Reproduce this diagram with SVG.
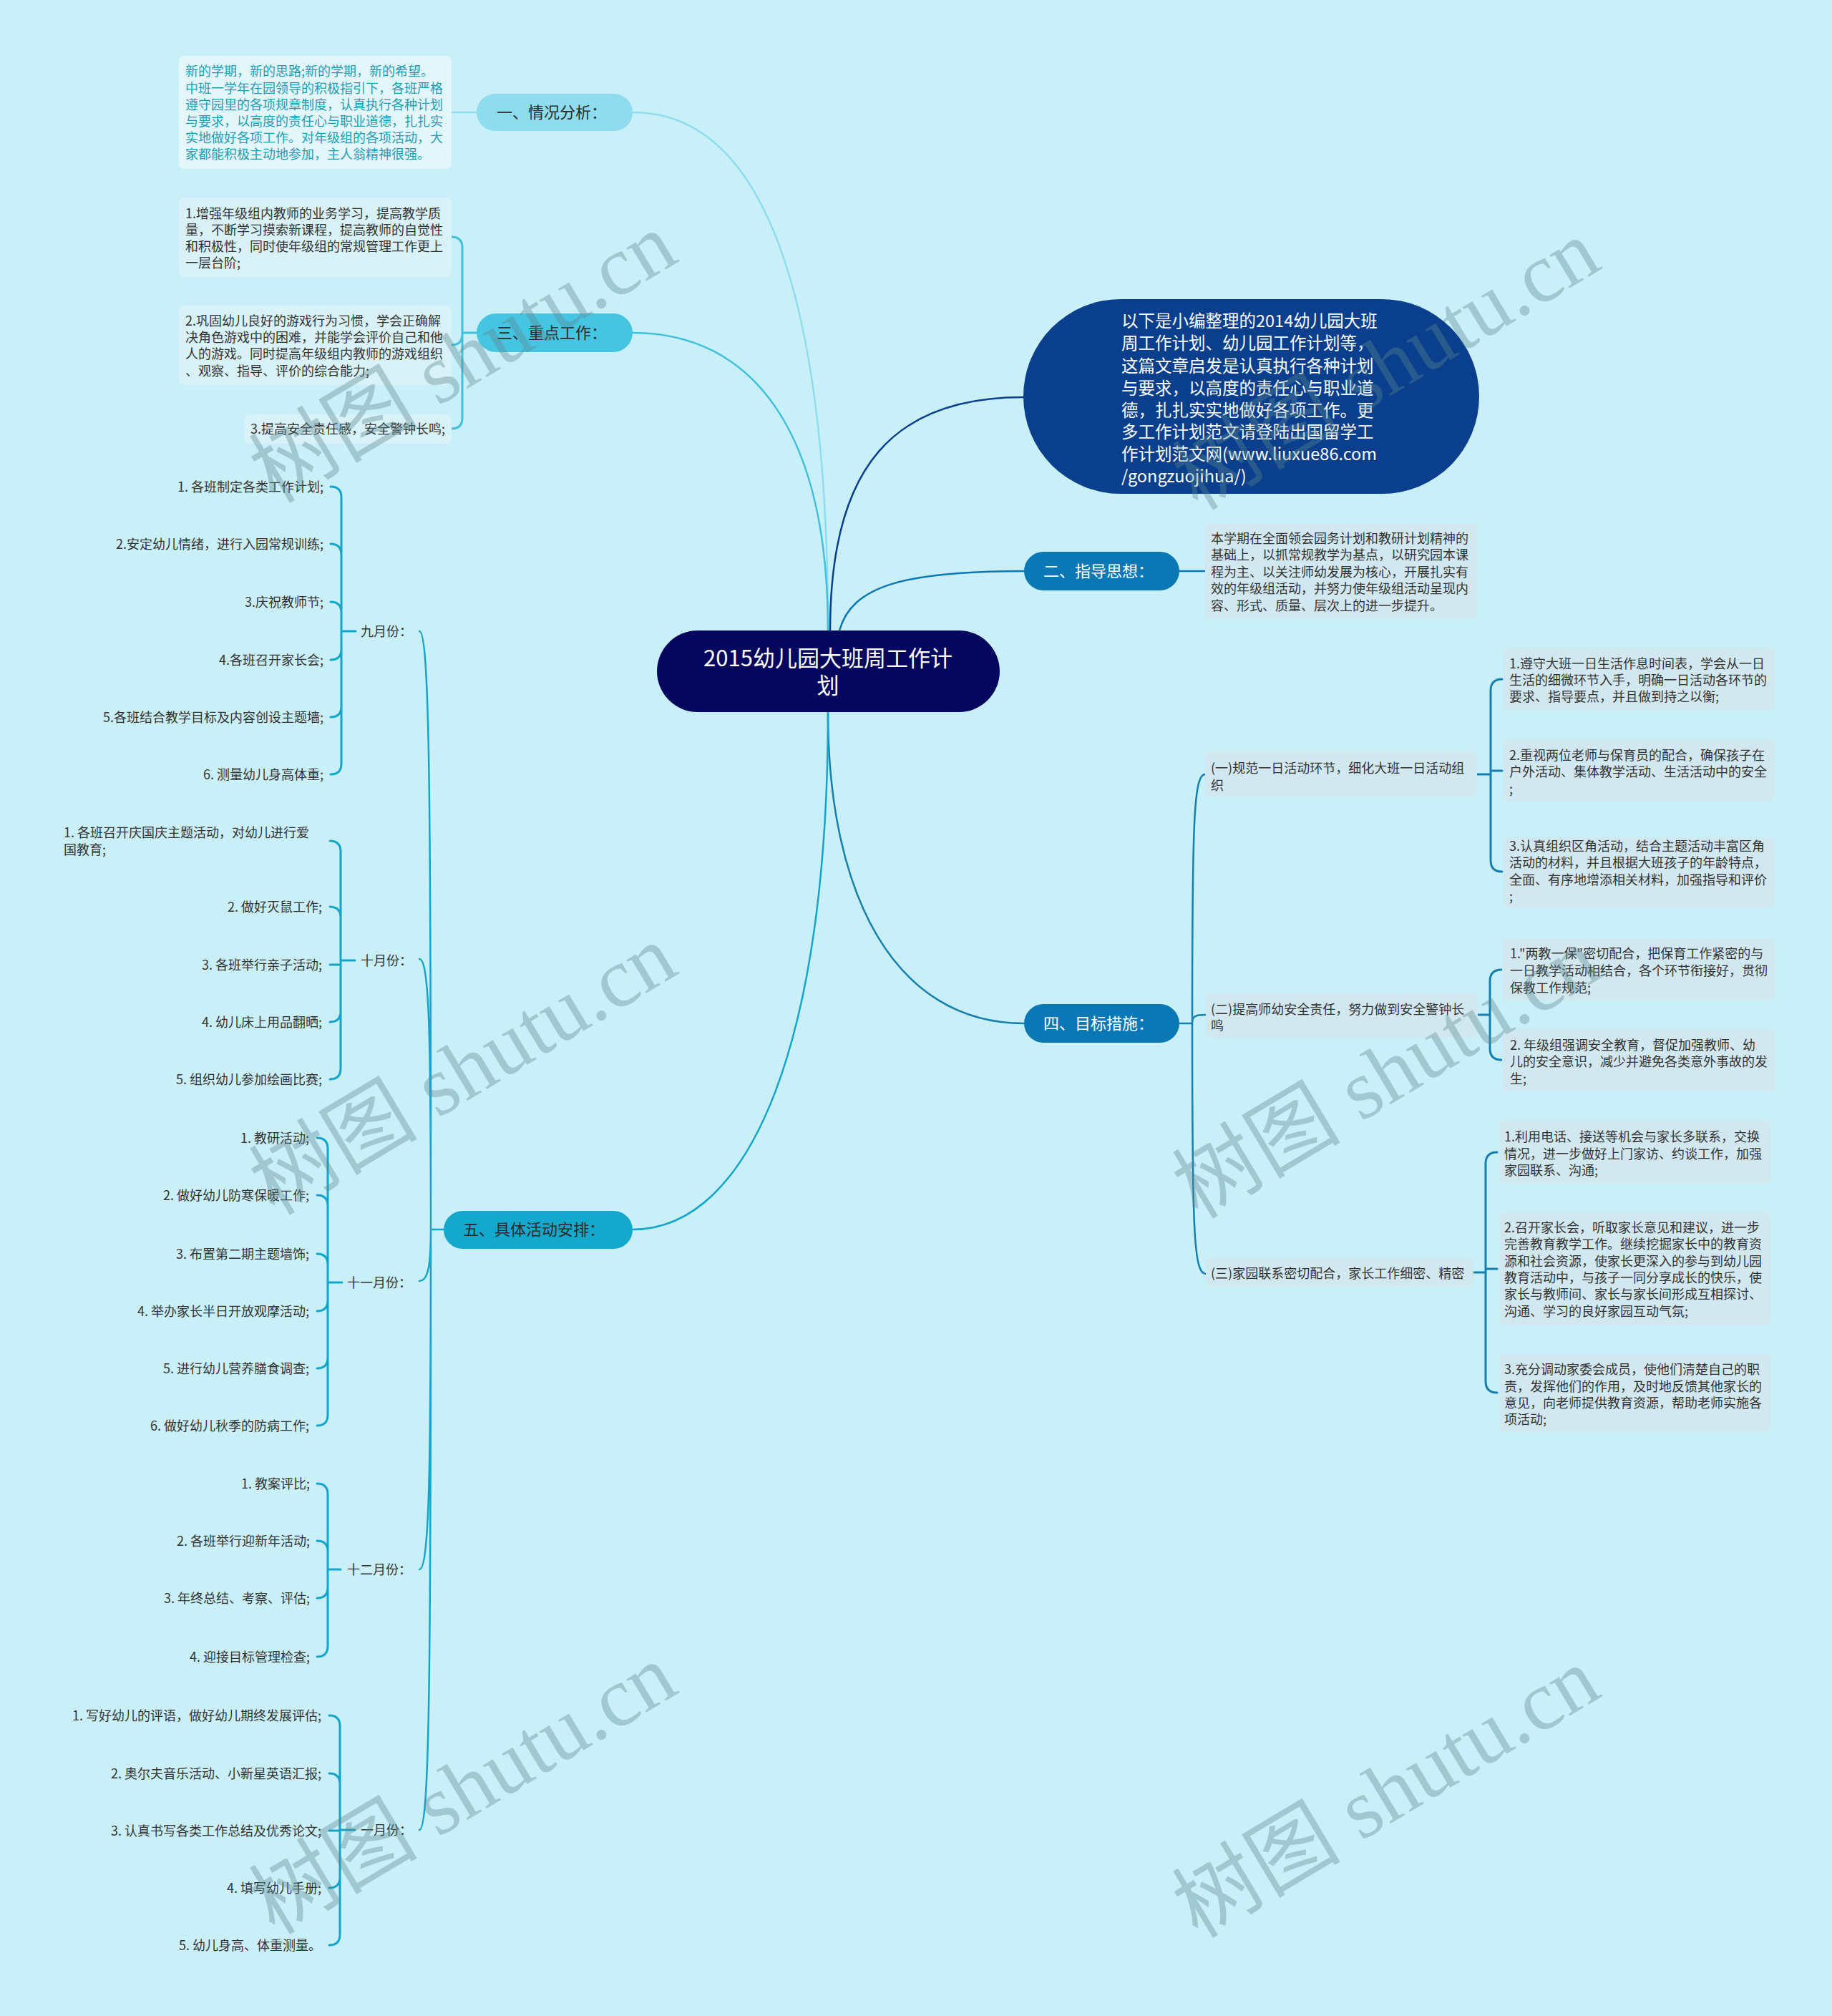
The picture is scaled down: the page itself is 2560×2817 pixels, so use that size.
<svg xmlns="http://www.w3.org/2000/svg" width="2560" height="2817" viewBox="0 0 2560 2817">
<defs>
<style>
text{font-family:"Noto Sans CJK SC","Liberation Sans",sans-serif;}
.s{font-size:18px;fill:#333;}
.sr{font-size:18px;fill:#333;text-anchor:end;}
.teal{font-size:18px;fill:#1d9db3;}
.lbl{font-size:22px;fill:#2b2b2b;}
.lblw{font-size:22px;fill:#fff;}
.box1{fill:#e3f7fb;}
.box3{fill:#d8f2f8;}
.boxb{fill:#d2e8f0;}
.c{fill:none;stroke-width:2.5;stroke-linecap:round;}
.br{fill:none;stroke-width:3;stroke-linecap:round;stroke-linejoin:round;}
.wm{font-family:"Liberation Serif","Noto Sans CJK SC",serif;font-size:118px;fill:#5d8891;opacity:0.38;text-anchor:middle;}
</style>
</defs>
<rect x="0" y="0" width="2560" height="2817" fill="#c9f0f8"/>

<g id="connectors">
<path class="c" stroke="#8fdcef" d="M1157,881 C1157,450 1080,157 884,157"/>
<path class="c" stroke="#8fdcef" d="M631,157 H666"/>
<path class="c" stroke="#40c0dc" d="M1157,881 C1157,600 1050,465 884,465"/>
<path class="br" stroke="#40c0dc" d="M646,465 H666 M646,465 V346 Q646,331 631,331 M646,465 V467 Q646,482 631,482 M646,465 V584 Q646,599 631,599"/>
<path class="c" stroke="#0a3f8d" d="M1160,881 C1160,650 1250,555 1430,555"/>
<path class="c" stroke="#0b78b6" d="M1173,881 C1190,820 1260,798 1431,798"/>
<path class="c" stroke="#0b78b6" d="M1648,798 H1684"/>
<path class="c" stroke="#167fae" d="M1157,995 C1157,1250 1250,1430 1431,1430"/>
<path class="c" stroke="#167fae" d="M1649,1430 H1666 M1666,1430 C1666,1150 1668,1082 1684,1082 M1666,1430 C1666,1420 1670,1418 1685,1418 M1666,1430 C1666,1720 1668,1780 1685,1780"/>
<path class="br" stroke="#167fae" d="M2064,1082 H2083 M2083,1082 V965 Q2083,949 2099,949 M2083,1077 H2099 M2083,1082 V1202 Q2083,1218 2099,1218"/>
<path class="br" stroke="#167fae" d="M2065,1418 H2082 M2082,1418 V1371 Q2082,1355 2098,1355 M2082,1418 V1465 Q2082,1481 2098,1481"/>
<path class="br" stroke="#167fae" d="M2059,1778 H2076 M2076,1778 V1626 Q2076,1610 2092,1610 M2076,1773 H2092 M2076,1778 V1930 Q2076,1946 2092,1946"/>
<path class="c" stroke="#13a5ca" d="M1157,995 C1157,1450 1050,1718 884,1718"/>
<path class="c" stroke="#13a5ca" d="M620,1718 H602 M602,1718 C602,1100 600,882 586,882 M602,1718 C602,1450 600,1340 586,1340 M602,1718 C602,1760 600,1790 586,1790 M602,1718 C602,2050 600,2193 586,2193 M602,1718 C602,2350 600,2557 586,2557"/>
<path class="br" stroke="#13a5ca" d="M477,882 H497 M477,882 V695 Q477,680 462,680 M477,882 V775 Q477,760 462,760 M477,882 V856 Q477,841 462,841 M477,882 V907 Q477,922 462,922 M477,882 V987 Q477,1002 462,1002 M477,882 V1067 Q477,1082 462,1082"/>
<path class="br" stroke="#13a5ca" d="M476,1342 H496 M476,1342 V1190 Q476,1175 461,1175 M476,1342 V1282 Q476,1267 461,1267 M476,1348 H461 M476,1342 V1413 Q476,1428 461,1428 M476,1342 V1493 Q476,1508 461,1508"/>
<path class="br" stroke="#13a5ca" d="M458,1792 H478 M458,1792 V1605 Q458,1590 443,1590 M458,1792 V1685 Q458,1670 443,1670 M458,1792 V1767 Q458,1752 443,1752 M458,1792 V1817 Q458,1832 443,1832 M458,1792 V1897 Q458,1912 443,1912 M458,1792 V1977 Q458,1992 443,1992"/>
<path class="br" stroke="#13a5ca" d="M458,2193 H476 M458,2193 V2088 Q458,2073 443,2073 M458,2193 V2168 Q458,2153 443,2153 M458,2193 V2218 Q458,2233 443,2233 M458,2193 V2300 Q458,2315 443,2315"/>
<path class="br" stroke="#13a5ca" d="M475,2557 H496 M475,2557 V2412 Q475,2397 460,2397 M475,2557 V2493 Q475,2478 460,2478 M475,2558 H460 M475,2557 V2623 Q475,2638 460,2638 M475,2557 V2703 Q475,2718 460,2718"/>
</g>

<g id="root">
<rect x="918" y="881" width="479" height="114" rx="57" fill="#05065e"/>
<text x="1157" y="931" font-size="31" fill="#fff" text-anchor="middle">2015幼儿园大班周工作计</text>
<text x="1157" y="969" font-size="31" fill="#fff" text-anchor="middle">划</text>
</g>

<g id="intro">
<rect x="1430" y="418" width="637" height="272" rx="136" fill="#0a3f8d"/>
<g font-size="23.5" fill="#fff">
<text x="1567" y="456.5">以下是小编整理的2014幼儿园大班</text>
<text x="1567" y="488">周工作计划、幼儿园工作计划等，</text>
<text x="1567" y="519.5">这篇文章启发是认真执行各种计划</text>
<text x="1567" y="550.5">与要求，以高度的责任心与职业道</text>
<text x="1567" y="581.5">德，扎扎实实地做好各项工作。更</text>
<text x="1567" y="611.5">多工作计划范文请登陆出国留学工</text>
<text x="1567" y="642.5">作计划范文网(www.liuxue86.com</text>
<text x="1567" y="673.5">/gongzuojihua/)</text>
</g>
</g>

<g id="n1">
<rect x="666" y="131" width="218" height="52" rx="26" fill="#8fdcef"/>
<text class="lbl" x="694" y="165">一、情况分析：</text>
</g>
<g id="n1-text">
<rect class="box1" x="250" y="78" width="381" height="158" rx="8"/>
<text class="teal" x="259" y="105.5">新的学期，新的思路;新的学期，新的希望。</text>
<text class="teal" x="259" y="129.5">中班一学年在园领导的积极指引下，各班严格</text>
<text class="teal" x="259" y="152.5">遵守园里的各项规章制度，认真执行各种计划</text>
<text class="teal" x="259" y="175.5">与要求，以高度的责任心与职业道德，扎扎实</text>
<text class="teal" x="259" y="198.5">实地做好各项工作。对年级组的各项活动，大</text>
<text class="teal" x="259" y="221.5">家都能积极主动地参加，主人翁精神很强。</text>
</g>

<g id="n3">
<rect x="666" y="438" width="218" height="54" rx="27" fill="#45c5e1"/>
<text class="lbl" x="694" y="473">三、重点工作：</text>
</g>
<g id="n3-1">
<rect class="box3" x="250" y="276" width="381" height="111" rx="8"/>
<text class="s" x="259" y="304.5">1.增强年级组内教师的业务学习，提高教学质</text>
<text class="s" x="259" y="327.5">量，不断学习摸索新课程，提高教师的自觉性</text>
<text class="s" x="259" y="350.5">和积极性，同时使年级组的常规管理工作更上</text>
<text class="s" x="259" y="373.5">一层台阶;</text>
</g>
<g id="n3-2">
<rect class="box3" x="250" y="427" width="381" height="111" rx="8"/>
<text class="s" x="259" y="454.5">2.巩固幼儿良好的游戏行为习惯，学会正确解</text>
<text class="s" x="259" y="477.5">决角色游戏中的困难，并能学会评价自己和他</text>
<text class="s" x="259" y="500.5">人的游戏。同时提高年级组内教师的游戏组织</text>
<text class="s" x="259" y="524.5">、观察、指导、评价的综合能力;</text>
</g>
<g id="n3-3">
<rect class="box3" x="341" y="579" width="290" height="41" rx="8"/>
<text class="s" x="350" y="605.5">3.提高安全责任感，安全警钟长鸣;</text>
</g>

<g id="n2">
<rect x="1431" y="771" width="217" height="54" rx="27" fill="#0b78b6"/>
<text class="lblw" x="1458" y="806">二、指导思想：</text>
</g>
<g id="n2-text">
<rect class="boxb" x="1684" y="731" width="381" height="134" rx="8"/>
<text class="s" x="1692" y="758.5">本学期在全面领会园务计划和教研计划精神的</text>
<text class="s" x="1692" y="782">基础上，以抓常规教学为基点，以研究园本课</text>
<text class="s" x="1692" y="805.5">程为主、以关注师幼发展为核心，开展扎实有</text>
<text class="s" x="1692" y="829">效的年级组活动，并努力使年级组活动呈现内</text>
<text class="s" x="1692" y="852.5">容、形式、质量、层次上的进一步提升。</text>
</g>

<g id="n4">
<rect x="1431" y="1403" width="217" height="54" rx="27" fill="#0b78b6"/>
<text class="lblw" x="1458" y="1438">四、目标措施：</text>
</g>
<g id="n4-1">
<rect class="boxb" x="1684" y="1050" width="380" height="63" rx="8"/>
<text class="s" x="1692" y="1079.5">(一)规范一日活动环节，细化大班一日活动组</text>
<text class="s" x="1692" y="1103.5">织</text>
</g>
<g id="n4-1-1">
<rect class="boxb" x="2101" y="905" width="379" height="88" rx="8"/>
<text class="s" x="2109" y="933.5">1.遵守大班一日生活作息时间表，学会从一日</text>
<text class="s" x="2109" y="956.5">生活的细微环节入手，明确一日活动各环节的</text>
<text class="s" x="2109" y="979.5">要求、指导要点，并且做到持之以衡;</text>
</g>
<g id="n4-1-2">
<rect class="boxb" x="2101" y="1033" width="379" height="87" rx="8"/>
<text class="s" x="2109" y="1061.5">2.重视两位老师与保育员的配合，确保孩子在</text>
<text class="s" x="2109" y="1084.5">户外活动、集体教学活动、生活活动中的安全</text>
<text class="s" x="2109" y="1108.5">;</text>
</g>
<g id="n4-1-3">
<rect class="boxb" x="2101" y="1170" width="379" height="98" rx="8"/>
<text class="s" x="2109" y="1188.5">3.认真组织区角活动，结合主题活动丰富区角</text>
<text class="s" x="2109" y="1211.5">活动的材料，并且根据大班孩子的年龄特点，</text>
<text class="s" x="2109" y="1235.5">全面、有序地增添相关材料，加强指导和评价</text>
<text class="s" x="2109" y="1258.5">;</text>
</g>
<g id="n4-2">
<rect class="boxb" x="1685" y="1387" width="380" height="63" rx="8"/>
<text class="s" x="1692" y="1417">(二)提高师幼安全责任，努力做到安全警钟长</text>
<text class="s" x="1692" y="1440">鸣</text>
</g>
<g id="n4-2-1">
<rect class="boxb" x="2099" y="1312" width="382" height="86" rx="8"/>
<text class="s" x="2110" y="1338.5">1."两教一保"密切配合，把保育工作紧密的与</text>
<text class="s" x="2110" y="1362.5">一日教学活动相结合，各个环节衔接好，贯彻</text>
<text class="s" x="2110" y="1386.5">保教工作规范;</text>
</g>
<g id="n4-2-2">
<rect class="boxb" x="2099" y="1438" width="382" height="87" rx="8"/>
<text class="s" x="2110" y="1466.5">2. 年级组强调安全教育，督促加强教师、幼</text>
<text class="s" x="2110" y="1489.5">儿的安全意识，减少并避免各类意外事故的发</text>
<text class="s" x="2110" y="1513.5">生;</text>
</g>
<g id="n4-3">
<rect class="boxb" x="1685" y="1758" width="374" height="40" rx="8"/>
<text class="s" x="1692" y="1785.5">(三)家园联系密切配合，家长工作细密、精密</text>
</g>
<g id="n4-3-1">
<rect class="boxb" x="2095" y="1566" width="379" height="88" rx="8"/>
<text class="s" x="2102" y="1594.5">1.利用电话、接送等机会与家长多联系，交换</text>
<text class="s" x="2102" y="1618.5">情况，进一步做好上门家访、约谈工作，加强</text>
<text class="s" x="2102" y="1641.5">家园联系、沟通;</text>
</g>
<g id="n4-3-2">
<rect class="boxb" x="2095" y="1694" width="379" height="158" rx="8"/>
<text class="s" x="2102" y="1721.5">2.召开家长会，听取家长意见和建议，进一步</text>
<text class="s" x="2102" y="1744.5">完善教育教学工作。继续挖掘家长中的教育资</text>
<text class="s" x="2102" y="1768.5">源和社会资源，使家长更深入的参与到幼儿园</text>
<text class="s" x="2102" y="1791.5">教育活动中，与孩子一同分享成长的快乐，使</text>
<text class="s" x="2102" y="1814.5">家长与教师间、家长与家长间形成互相探讨、</text>
<text class="s" x="2102" y="1838.5">沟通、学习的良好家园互动气氛;</text>
</g>
<g id="n4-3-3">
<rect class="boxb" x="2095" y="1891" width="379" height="110" rx="8"/>
<text class="s" x="2102" y="1919.5">3.充分调动家委会成员，使他们清楚自己的职</text>
<text class="s" x="2102" y="1943.5">责，发挥他们的作用，及时地反馈其他家长的</text>
<text class="s" x="2102" y="1966.5">意见，向老师提供教育资源，帮助老师实施各</text>
<text class="s" x="2102" y="1989.5">项活动;</text>
</g>

<g id="n5">
<rect x="620" y="1692" width="264" height="53" rx="26.5" fill="#14a8cc"/>
<text class="lbl" x="647" y="1726">五、具体活动安排：</text>
</g>

<g id="m9">
<text class="s" x="504" y="888.5">九月份：</text>
<text class="sr" x="452" y="686.5">1. 各班制定各类工作计划;</text>
<text class="sr" x="452" y="766.5">2.安定幼儿情绪，进行入园常规训练;</text>
<text class="sr" x="452" y="847.5">3.庆祝教师节;</text>
<text class="sr" x="452" y="928.5">4.各班召开家长会;</text>
<text class="sr" x="452" y="1008.5">5.各班结合教学目标及内容创设主题墙;</text>
<text class="sr" x="452" y="1088.5">6. 测量幼儿身高体重;</text>
</g>
<g id="m10">
<text class="s" x="504" y="1348.5">十月份：</text>
<text class="s" x="89" y="1169.5">1. 各班召开庆国庆主题活动，对幼儿进行爱</text>
<text class="s" x="89" y="1193.5">国教育;</text>
<text class="sr" x="450" y="1273.5">2. 做好灭鼠工作;</text>
<text class="sr" x="450" y="1354.5">3. 各班举行亲子活动;</text>
<text class="sr" x="450" y="1434.5">4. 幼儿床上用品翻晒;</text>
<text class="sr" x="450" y="1514.5">5. 组织幼儿参加绘画比赛;</text>
</g>
<g id="m11">
<text class="s" x="485" y="1798.5">十一月份：</text>
<text class="sr" x="432" y="1596.5">1. 教研活动;</text>
<text class="sr" x="432" y="1676.5">2. 做好幼儿防寒保暖工作;</text>
<text class="sr" x="432" y="1758.5">3. 布置第二期主题墙饰;</text>
<text class="sr" x="432" y="1838.5">4. 举办家长半日开放观摩活动;</text>
<text class="sr" x="432" y="1918.5">5. 进行幼儿营养膳食调查;</text>
<text class="sr" x="432" y="1998.5">6. 做好幼儿秋季的防病工作;</text>
</g>
<g id="m12">
<text class="s" x="485" y="2199.5">十二月份：</text>
<text class="sr" x="433" y="2079.5">1. 教案评比;</text>
<text class="sr" x="433" y="2159.5">2. 各班举行迎新年活动;</text>
<text class="sr" x="433" y="2239.5">3. 年终总结、考察、评估;</text>
<text class="sr" x="433" y="2321.5">4. 迎接目标管理检查;</text>
</g>
<g id="m1">
<text class="s" x="504" y="2563.5">一月份：</text>
<text class="sr" x="449" y="2403.5">1. 写好幼儿的评语，做好幼儿期终发展评估;</text>
<text class="sr" x="449" y="2484.5">2. 奥尔夫音乐活动、小新星英语汇报;</text>
<text class="sr" x="449" y="2564.5">3. 认真书写各类工作总结及优秀论文;</text>
<text class="sr" x="449" y="2644.5">4. 填写幼儿手册;</text>
<text class="sr" x="449" y="2724.5">5. 幼儿身高、体重测量。</text>
</g>

<g id="watermarks">
<text class="wm" x="647" y="540" transform="rotate(-31 647 500)">树图 shutu.cn</text>
<text class="wm" x="1937" y="550" transform="rotate(-31 1937 510)">树图 shutu.cn</text>
<text class="wm" x="647" y="1535" transform="rotate(-31 647 1495)">树图 shutu.cn</text>
<text class="wm" x="1937" y="1540" transform="rotate(-31 1937 1500)">树图 shutu.cn</text>
<text class="wm" x="647" y="2540" transform="rotate(-31 647 2500)">树图 shutu.cn</text>
<text class="wm" x="1937" y="2545" transform="rotate(-31 1937 2505)">树图 shutu.cn</text>
</g>
</svg>
